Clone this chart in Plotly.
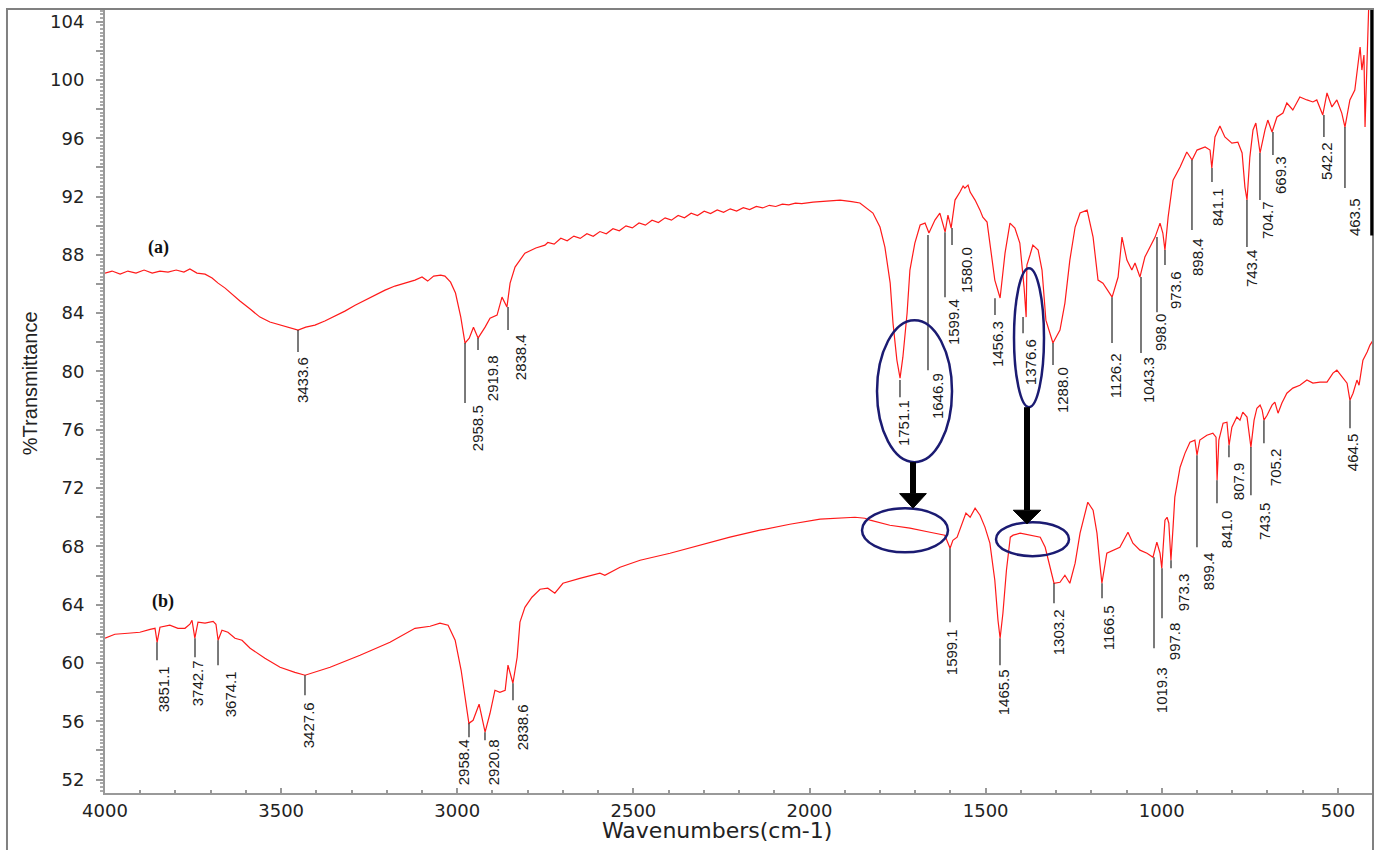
import plotly.graph_objects as go

# ---------------- data (wavenumber cm-1, %T) ----------------
a_wn = [4000, 3980, 3957, 3935, 3912, 3889, 3866, 3844, 3821, 3798, 3776, 3759, 3739, 3716, 3696, 3679,
        3659, 3640, 3617, 3588, 3560, 3532, 3503, 3475, 3452, 3430, 3404, 3376, 3347, 3319, 3290, 3262,
        3234, 3205, 3177, 3148, 3120, 3100, 3084, 3067, 3047, 3035, 3019, 3005, 2990, 2978, 2966, 2954,
        2941, 2921, 2907, 2887, 2873, 2859, 2850, 2836, 2808, 2777, 2751,
        2743, 2725, 2706, 2688, 2669, 2651, 2632, 2614, 2595, 2577, 2558, 2540, 2521, 2503, 2484, 2466,
        2447, 2429, 2410, 2392, 2373, 2355, 2336, 2318, 2299, 2281, 2262, 2244, 2225, 2207, 2188, 2170,
        2151, 2133, 2114, 2096, 2077, 2059, 2040, 2022,
        1990, 1950, 1913, 1880, 1857, 1820, 1800, 1786, 1771, 1763, 1752, 1743, 1735, 1723, 1715, 1701,
        1686, 1672, 1661, 1644, 1630, 1615, 1607, 1598, 1587, 1573, 1564, 1559, 1550, 1544, 1530, 1516,
        1508, 1496, 1488, 1474, 1459, 1445, 1431, 1417, 1403, 1391, 1385, 1383, 1374, 1366, 1351, 1340,
        1329, 1309, 1289, 1275, 1261, 1246, 1232, 1212, 1195, 1181, 1167, 1153, 1141, 1124, 1113, 1099,
        1085, 1076, 1062, 1048, 1034, 1019, 1005, 997, 991, 982, 968, 948, 929, 914, 900, 877,
        863, 858, 849, 835, 821, 801, 784, 772, 764, 758, 750, 741, 733, 721, 707, 699,
        687, 673, 656, 645, 628, 608, 588, 571, 560, 543, 531, 517, 503, 489, 480, 466,
        452, 443, 437, 432, 426, 423, 418, 412]
a_t = [86.75, 86.89, 86.68, 86.89, 86.75, 86.96, 86.75, 86.89, 86.82, 86.96, 86.82, 87.03, 86.75, 86.68, 86.41, 86.06,
       85.72, 85.31, 84.83, 84.28, 83.73, 83.39, 83.18, 82.97, 82.84, 83.04, 83.18, 83.46, 83.80, 84.14, 84.55, 84.90,
       85.24, 85.58, 85.86, 86.06, 86.27, 86.48, 86.20, 86.54, 86.61, 86.54, 86.13, 85.38, 83.73, 81.95, 82.29, 83.04,
       82.29, 83.04, 83.66, 83.87, 85.10, 84.42, 86.06, 87.16, 88.12, 88.47, 88.67,
       88.85, 88.74, 89.14, 88.97, 89.29, 89.13, 89.45, 89.28, 89.60, 89.45, 89.79, 89.65, 89.99, 89.85, 90.19, 90.04,
       90.38, 90.22, 90.54, 90.38, 90.70, 90.54, 90.86, 90.70, 90.99, 90.83, 91.08, 90.92, 91.16, 91.01, 91.24, 91.11,
       91.32, 91.22, 91.40, 91.32, 91.48, 91.43, 91.55, 91.52,
       91.62, 91.70, 91.76, 91.65, 91.56, 90.87, 89.91, 88.53, 86.06, 83.32, 80.78, 79.54, 80.98, 84.01, 86.96, 88.81,
       90.05, 90.18, 89.50, 90.39, 90.87, 89.57, 90.73, 89.84, 91.76, 92.31, 92.72, 92.58, 92.79, 92.31, 91.76, 91.07,
       90.59, 90.25, 88.81, 86.27, 85.04, 88.12, 90.18, 89.84, 88.81, 85.79, 83.73, 87.30, 87.99, 88.67, 88.33, 86.96,
       83.52, 81.95, 82.84, 84.69, 87.64, 89.91, 90.87, 91.07, 89.22, 86.27, 86.06, 85.58, 85.10, 86.48, 89.22, 87.64,
       86.96, 87.44, 86.48, 87.85, 88.53, 89.22, 90.18, 89.50, 88.33, 90.59, 93.13, 94.03, 95.06, 94.51, 95.19, 95.40,
       95.19, 93.96, 96.09, 96.84, 96.09, 95.67, 95.74, 94.99, 92.65, 91.76, 94.71, 96.57, 97.05, 94.99, 96.57, 97.25,
       96.43, 97.46, 97.73, 98.42, 97.94, 98.83, 98.63, 98.49, 98.63, 97.60, 99.11, 98.15, 98.63, 97.73, 96.77, 98.63,
       99.31, 101.37, 102.26, 100.68, 101.71, 96.77, 101.37, 105.5]

b_wn = [4000, 3972, 3935, 3901, 3872, 3858, 3852, 3844, 3816, 3793, 3773, 3759, 3753, 3745, 3736, 3716,
        3693, 3685, 3679, 3668, 3651, 3631, 3611, 3588, 3546, 3503, 3461, 3432, 3361, 3276, 3191, 3120,
        3077, 3049, 3026, 3006, 2989, 2978, 2967, 2955, 2938, 2921, 2907, 2893, 2879, 2864, 2856, 2842,
        2830, 2822, 2808, 2788, 2765, 2743, 2723, 2700, 2652, 2595, 2581, 2538, 2481, 2396, 2309, 2226,
        2141, 2056, 1970, 1914, 1871, 1843, 1828, 1772, 1715, 1658, 1616, 1601, 1593, 1581, 1567, 1556,
        1544, 1530, 1516, 1502, 1488, 1474, 1465, 1459, 1451, 1441, 1430, 1422, 1402, 1374, 1345, 1331,
        1317, 1306, 1289, 1275, 1261, 1246, 1232, 1210, 1195, 1184, 1176, 1170, 1156, 1139, 1119, 1096,
        1082, 1062, 1042, 1025, 1014, 1005, 1000, 991, 985, 980, 974, 968, 963, 948, 934, 920,
        906, 900, 892, 872, 855, 846, 843, 838, 826, 815, 809, 801, 787, 778, 770, 758,
        747, 738, 730, 721, 715, 710, 701, 687, 679, 670, 659, 645, 628, 608, 588, 571,
        551, 531, 514, 503, 488, 474, 466, 457, 446, 440, 429, 417, 409, 400]
b_t = [61.70, 61.97, 62.04, 62.11, 62.31, 62.38, 61.42, 62.45, 62.59, 62.38, 62.38, 62.66, 62.93, 61.70, 62.80, 62.73,
       62.86, 62.66, 61.56, 62.25, 62.11, 61.70, 61.56, 61.01, 60.32, 59.71, 59.36, 59.16, 59.71, 60.53, 61.42, 62.38,
       62.52, 62.73, 62.59, 61.56, 59.50, 57.65, 55.86, 56.07, 57.17, 55.25, 56.55, 58.13, 57.99, 58.13, 59.85, 58.61,
       60.39, 62.80, 63.82, 64.51, 65.06, 65.13, 64.79, 65.47, 65.81, 66.16, 66.02, 66.57, 67.05, 67.53, 68.08, 68.63,
       69.11, 69.52, 69.87, 69.93, 70.00, 69.93, 69.80, 69.45, 69.25, 68.97, 68.77, 67.87, 68.42, 68.63, 69.59, 70.28,
       70.00, 70.62, 70.14, 69.32, 68.22, 65.68, 62.93, 61.70, 63.41, 66.36, 68.63, 68.77, 68.91, 68.77, 68.63, 67.94,
       66.57, 65.47, 65.54, 66.02, 65.47, 66.85, 68.91, 71.03, 70.48, 68.91, 66.85, 65.47, 67.53, 67.74, 67.94, 68.97,
       68.22, 67.74, 67.53, 67.26, 68.29, 67.53, 66.50, 69.80, 70.00, 69.59, 67.05, 69.32, 71.38, 73.43, 74.40, 75.15,
       75.29, 74.26, 75.29, 75.63, 75.77, 75.49, 72.54, 75.29, 76.45, 76.52, 74.94, 76.18, 76.87, 76.66, 77.21, 76.87,
       74.81, 76.66, 77.48, 77.69, 77.35, 76.66, 77.00, 77.69, 77.90, 77.14, 77.83, 78.51, 78.86, 79.06, 79.41, 79.20,
       79.27, 79.27, 79.89, 80.09, 79.61, 79.20, 78.03, 78.51, 79.41, 79.06, 80.78, 81.33, 81.81, 82.15]

# peak labels of spectrum (a): text, marker line x, line top, line bottom, label x, label centre y
a_lbl_text = ["3433.6", "2958.5", "2919.8", "2838.4", "1751.1", "1646.9", "1599.4", "1580.0", "1456.3", "1376.6", "1288.0",
              "1126.2", "1043.3", "998.0", "973.6", "898.4", "841.1", "743.4", "704.7", "669.3", "542.2", "463.5"]
a_lbl_x = [3452.1, 2978.0, 2941.1, 2855.9, 1743.2, 1663.7, 1615.4, 1595.5, 1473.5, 1393.9, 1308.8,
           1141.3, 1059.0, 1013.6, 990.9, 914.3, 857.5, 758.2, 721.3, 684.4, 539.7, 480.0]
a_lbl_top = [82.84, 81.95, 82.29, 84.42, 79.41, 89.36, 89.56, 89.84, 85.03, 83.73, 81.95,
             85.10, 86.48, 89.22, 88.33, 94.51, 93.96, 91.76, 94.99, 96.43, 97.60, 96.77]
a_lbl_bot = [81.33, 77.83, 81.47, 82.84, 78.24, 80.09, 85.10, 88.67, 83.87, 82.63, 80.44,
             81.95, 81.26, 84.07, 87.30, 89.70, 93.00, 88.54, 91.76, 94.85, 96.09, 92.58]
a_txt_x = [3440.7, 2944.0, 2901.4, 2821.9, 1734.6, 1638.2, 1592.7, 1555.8, 1467.8, 1374.1, 1283.3,
           1132.8, 1039.2, 1005.1, 962.7, 900.1, 843.3, 746.9, 701.4, 664.5, 534.0, 454.5]
a_txt_y = [79.41, 76.11, 79.54, 80.98, 76.46, 78.31, 83.39, 86.96, 81.88, 80.64, 78.72,
           79.68, 79.41, 82.70, 85.58, 87.85, 91.28, 87.09, 90.39, 93.48, 94.44, 90.59]

# peak labels of spectrum (b)
b_lbl_text = ["3851.1", "3742.7", "3674.1", "3427.6", "2958.4", "2920.8", "2838.6", "1599.1", "1465.5", "1303.2",
              "1166.5", "1019.3", "997.8", "973.3", "899.4", "841.0", "807.9", "743.5", "705.2", "464.5"]
b_lbl_x = [3852.4, 3744.5, 3679.2, 3432.3, 2966.7, 2921.3, 2841.8, 1601.2, 1459.3, 1306.0,
           1169.7, 1022.1, 999.4, 973.8, 900.1, 843.3, 809.3, 746.9, 710.0, 465.7]
b_lbl_top = [61.42, 61.70, 61.56, 59.16, 55.86, 55.25, 58.61, 67.87, 61.70, 65.47,
             65.47, 67.26, 66.50, 67.05, 74.26, 72.54, 74.94, 74.81, 76.66, 78.03]
b_lbl_bot = [60.19, 60.39, 59.84, 57.78, 54.90, 54.70, 57.44, 62.79, 59.84, 64.10,
             64.44, 61.01, 63.07, 66.50, 67.94, 70.96, 74.12, 71.51, 75.08, 76.11]
b_txt_x = [3835.3, 3738.8, 3645.2, 3423.7, 2983.7, 2898.5, 2816.2, 1598.4, 1450.8, 1294.6,
           1152.7, 1002.3, 965.5, 939.8, 868.9, 817.8, 783.7, 710.0, 678.7, 460.1]
b_txt_y = [58.20, 58.61, 57.85, 55.73, 53.19, 53.19, 55.59, 60.74, 57.99, 62.11,
           62.45, 58.13, 61.49, 64.85, 66.30, 69.18, 72.47, 69.73, 73.43, 74.46]

# highlight ellipses (x0, x1, y0, y1) and arrows (x, y start, head base, tip, head half-width)
ell_x0 = [1808.4, 1419.5, 1851.0, 1470.6]
ell_x1 = [1595.5, 1334.4, 1606.9, 1263.4]
ell_y0 = [73.78, 77.55, 67.60, 67.33]
ell_y1 = [83.52, 87.09, 70.62, 69.66]
arr_x = [1706.3, 1382.6]
arr_y0 = [73.78, 77.55]
arr_yb = [71.62, 70.48]
arr_tip = [70.62, 69.55]
arr_hw = [38.0, 39.0]

y_tick_vals = list(range(52, 105, 2))
y_tick_text = [str(v) if v % 4 == 0 else "" for v in y_tick_vals]
x_tick_vals = [4000, 3500, 3000, 2500, 2000, 1500, 1000, 500]

RED = "#ff1a1a"
NAVY = "#1b1b72"
LBL_FONT = dict(family="Liberation Sans", size=15, color="#1a1a1a")

fig = go.Figure()
fig.add_trace(go.Scatter(x=a_wn, y=a_t, mode="lines", line=dict(color=RED, width=1.2), showlegend=False,
                         hoverinfo="skip"))
fig.add_trace(go.Scatter(x=b_wn, y=b_t, mode="lines", line=dict(color=RED, width=1.2), showlegend=False,
                         hoverinfo="skip"))

shapes = []
annotations = []
for texts, xs, tops, bots, txs, tys in [(a_lbl_text, a_lbl_x, a_lbl_top, a_lbl_bot, a_txt_x, a_txt_y),
                                         (b_lbl_text, b_lbl_x, b_lbl_top, b_lbl_bot, b_txt_x, b_txt_y)]:
    for t, x, y0, y1, tx, ty in zip(texts, xs, tops, bots, txs, tys):
        shapes.append(dict(type="line", xref="x", yref="y", x0=x, x1=x, y0=y0, y1=y1,
                           line=dict(color="#222", width=1.2)))
        annotations.append(dict(x=tx, y=ty, xref="x", yref="y", text=t, textangle=-90, showarrow=False,
                                xanchor="center", yanchor="middle", font=LBL_FONT))

for x0, x1, y0, y1 in zip(ell_x0, ell_x1, ell_y0, ell_y1):
    shapes.append(dict(type="circle", xref="x", yref="y", x0=x0, x1=x1, y0=y0, y1=y1,
                       line=dict(color=NAVY, width=2.5)))
for x, y0, yb, tip, hw in zip(arr_x, arr_y0, arr_yb, arr_tip, arr_hw):
    shapes.append(dict(type="line", xref="x", yref="y", x0=x, x1=x, y0=y0, y1=yb,
                       line=dict(color="black", width=6)))
    shapes.append(dict(type="path", xref="x", yref="y",
                       path=f"M {x + hw},{yb} L {x - hw},{yb} L {x},{tip} Z",
                       fillcolor="black", line=dict(color="black", width=1)))

# outer frame and right border
shapes.append(dict(type="rect", xref="paper", yref="paper", x0=-0.0773, x1=1.0, y0=-0.2, y1=1.0013,
                   line=dict(color="#808080", width=2), layer="above"))
shapes.append(dict(type="line", xref="paper", yref="paper", x0=0.999, x1=0.999, y0=0.712, y1=1.0,
                   line=dict(color="black", width=3)))

annotations.append(dict(x=3849.5, y=88.54, xref="x", yref="y", text="<b>(a)</b>", showarrow=False,
                        font=dict(family="Liberation Serif", size=18, color="#111")))
annotations.append(dict(x=3835.3, y=64.24, xref="x", yref="y", text="<b>(b)</b>", showarrow=False,
                        font=dict(family="Liberation Serif", size=18, color="#111")))
annotations.append(dict(x=0.4826, y=-0.0475, xref="paper", yref="paper", text="Wavenumbers(cm-1)",
                        showarrow=False, xanchor="center", yanchor="middle",
                        font=dict(family="DejaVu Sans", size=22, color="#222")))
annotations.append(dict(x=-0.0591, y=0.5235, xref="paper", yref="paper", text="%Transmittance",
                        showarrow=False, textangle=-90, xanchor="center", yanchor="middle",
                        font=dict(family="Liberation Sans", size=20, color="#222")))

fig.update_layout(
    width=1378, height=850,
    margin=dict(l=105, r=5, t=10, b=57),
    paper_bgcolor="white", plot_bgcolor="white",
    shapes=shapes, annotations=annotations,
    xaxis=dict(range=[4000, 400.4], tickvals=x_tick_vals, ticktext=[str(v) for v in x_tick_vals],
               ticks="inside", ticklen=5, tickcolor="#999", tickwidth=1.5,
               showline=True, linecolor="#999", linewidth=2, showgrid=False, zeroline=False,
               tickfont=dict(family="DejaVu Sans", size=18, color="#222"),
               minor=dict(dtick=100, tick0=0, ticks="inside", ticklen=3, tickcolor="#999", showgrid=False)),
    yaxis=dict(range=[51.08, 104.8], tickvals=y_tick_vals, ticktext=y_tick_text,
               ticks="outside", ticklen=7, tickcolor="#999", tickwidth=1.5, ticklabelstandoff=8,
               showline=True, linecolor="#999", linewidth=2, showgrid=False, zeroline=False,
               tickfont=dict(family="DejaVu Sans", size=18, color="#222"),
               minor=dict(dtick=0.25, tick0=0, ticks="outside", ticklen=3, tickcolor="#aaa", showgrid=False)),
)

fig.write_html("out.html")
